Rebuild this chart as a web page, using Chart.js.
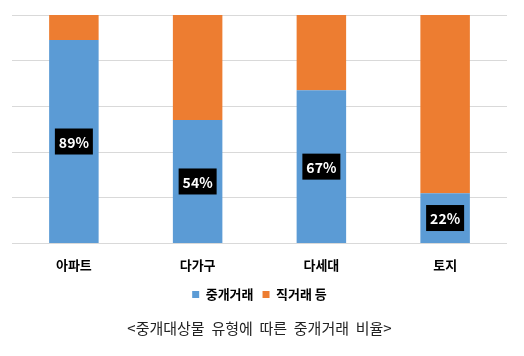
<!DOCTYPE html>
<html><head><meta charset="utf-8">
<script src="https://cdn.jsdelivr.net/npm/chart.js@4/dist/chart.umd.min.js"></script>
<style>html,body{margin:0;padding:0;background:#fff}#wrap{width:524px;height:356px}</style>
</head><body><div id="wrap"><canvas id="c" width="524" height="356"></canvas></div>
<script>
const categories = ['아파트', '다가구', '다세대', '토지'];
const brokerage = [89, 54, 67, 22];
const direct = [11, 46, 33, 78];
const seriesNames = ['중개거래', '직거래 등'];
const chartTitle = '<중개대상물  유형에  따른  중개거래  비율>';
const FONT = "'Noto Sans CJK KR', 'Noto Sans', sans-serif";

const labelPlugin = {
  id: 'boxLabels',
  afterDatasetsDraw(chart) {
    const ctx = chart.ctx;
    const meta = chart.getDatasetMeta(0);
    ctx.save();
    ctx.font = "bold 14px " + FONT;
    ctx.textAlign = 'center';
    ctx.textBaseline = 'middle';
    meta.data.forEach((bar, i) => {
      const txt = brokerage[i] + '%';
      const cy = (bar.y + bar.base) / 2;
      const w = 38, h = 26;
      ctx.fillStyle = '#000';
      ctx.fillRect(bar.x - w / 2, cy - h / 2, w, h);
      ctx.fillStyle = '#fff';
      ctx.fillText(txt, bar.x, cy + 1);
    });
    ctx.restore();
  }
};

new Chart(document.getElementById('c'), {
  type: 'bar',
  data: {
    labels: categories,
    datasets: [
      { label: seriesNames[0], data: brokerage, backgroundColor: '#5B9BD5', barPercentage: 0.4, categoryPercentage: 1 },
      { label: seriesNames[1], data: direct, backgroundColor: '#ED7D31', barPercentage: 0.4, categoryPercentage: 1 }
    ]
  },
  options: {
    responsive: false,
    animation: false,
    layout: { padding: { left: 12, right: 17, top: 15, bottom: 19 } },
    scales: {
      x: {
        stacked: true,
        grid: { display: false },
        border: { display: false },
        ticks: { color: '#000', font: { family: FONT, size: 13, weight: 'bold' }, padding: 6 }
      },
      y: {
        stacked: true,
        min: 0, max: 100,
        ticks: { display: false, stepSize: 20 },
        grid: { color: '#d9d9d9', drawTicks: false, lineWidth: 1 },
        border: { display: false }
      }
    },
    plugins: {
      legend: {
        position: 'bottom',
        labels: { boxWidth: 7, boxHeight: 7, padding: 9, color: '#000', font: { family: FONT, size: 13, weight: 'bold' } }
      },
      title: {
        display: true,
        position: 'bottom',
        text: chartTitle,
        color: '#222',
        font: { family: FONT, size: 15, weight: 'normal' },
        padding: { top: 8, bottom: 0 }
      },
      tooltip: { enabled: false }
    }
  },
  plugins: [labelPlugin]
});
</script></body></html>
